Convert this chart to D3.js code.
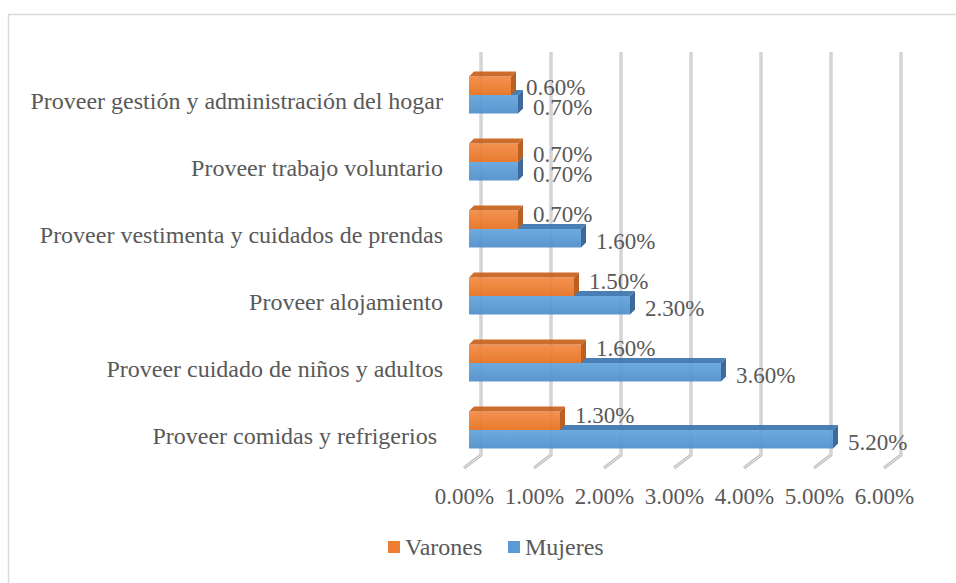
<!DOCTYPE html>
<html>
<head>
<meta charset="utf-8">
<script src="https://cdn.jsdelivr.net/npm/d3@7"></script>
<style>
  body { margin: 0; background: #fff; }
  svg text { font-family: "Liberation Serif", "DejaVu Serif", "Times New Roman", serif; fill: #595959; }
</style>
</head>
<body>
<svg id="chart" width="956" height="583"></svg>
<script>
// categories from top to bottom
var categories = [
  "Proveer gestión y administración del hogar",
  "Proveer trabajo voluntario",
  "Proveer vestimenta y cuidados de prendas",
  "Proveer alojamiento",
  "Proveer cuidado de niños y adultos",
  "Proveer comidas y refrigerios "
];
var varones = [0.006, 0.007, 0.007, 0.015, 0.016, 0.013];
var mujeres = [0.007, 0.007, 0.016, 0.023, 0.036, 0.052];
var ticks = [0, 0.01, 0.02, 0.03, 0.04, 0.05, 0.06];
var seriesNames = ["Varones", "Mujeres"];

var FONT = "'Liberation Serif', 'DejaVu Serif', 'Times New Roman', serif";
var svg = d3.select("#chart").attr("font-family", FONT);
var fmt = d3.format(".2%");

// chart border
svg.append("path")
  .attr("d", "M8.5,590 V14.5 H960")
  .attr("fill", "none")
  .attr("stroke", "#d9d9d9")
  .attr("stroke-width", 1.5);

var x = d3.scaleLinear().domain([0, 0.06]).range([469, 889]);
var y = d3.scalePoint().domain(categories).range([95, 430]);

var barH = 18.5;
var dx = 5, dy = 5;     // bar depth
var wallDx = 12;        // gridline on back wall
var floorDx = -17, floorDy = 13;

// gridlines (back wall + floor slant)
var grid = svg.append("g");
ticks.forEach(function(v){
  var gx = x(v) + wallDx;
  var d = "M" + gx + ",52 V455 L" + (gx + floorDx) + "," + (455 + floorDy);
  grid.append("path").attr("d", d).attr("fill", "none")
    .attr("stroke", "#bdbdbd").attr("stroke-width", 3);
  grid.append("path").attr("d", d).attr("fill", "none")
    .attr("stroke", "#ececec").attr("stroke-width", 1);
});

var defs = svg.append("defs");
function grad(id, c1, c2){
  var g = defs.append("linearGradient").attr("id", id)
    .attr("x1", 0).attr("y1", 0).attr("x2", 0).attr("y2", 1);
  g.append("stop").attr("offset", "0%").attr("stop-color", c1);
  g.append("stop").attr("offset", "100%").attr("stop-color", c2);
}
grad("gOr", "#f28a44", "#e7711f");
grad("gBl", "#62a4dc", "#4f8fcb");

var styles = {
  Varones: { front: "url(#gOr)", top: "#c9621c", side: "#b45512" },
  Mujeres: { front: "url(#gBl)", top: "#3d76b0", side: "#2f5f93" }
};

function bar3d(g, v, yTop, st){
  var x0 = x(0), x1 = x(v);
  g.append("rect").attr("x", x0).attr("y", yTop)
    .attr("width", x1 - x0).attr("height", barH)
    .attr("fill", st.front);
  g.append("path")
    .attr("d", "M" + x0 + "," + yTop + " L" + (x0 + dx) + "," + (yTop - dy) +
      " L" + (x1 + dx) + "," + (yTop - dy) + " L" + x1 + "," + yTop + "Z")
    .attr("fill", st.top);
  g.append("path")
    .attr("d", "M" + x1 + "," + yTop + " L" + (x1 + dx) + "," + (yTop - dy) +
      " L" + (x1 + dx) + "," + (yTop + barH - dy) + " L" + x1 + "," + (yTop + barH) + "Z")
    .attr("fill", st.side);
}

var bars = svg.append("g").attr("opacity", 0.93);
categories.forEach(function(c, i){
  var b = y(c);
  bar3d(bars, mujeres[i], b, styles.Mujeres);
  bar3d(bars, varones[i], b - barH, styles.Varones);
});

// data labels
var labels = svg.append("g").attr("font-size", 23);
categories.forEach(function(c, i){
  var b = y(c);
  var close = Math.abs(varones[i] - mujeres[i]) < 0.002;
  labels.append("text")
    .attr("x", x(varones[i]) + 15)
    .attr("y", b + (close ? -8 : -15))
    .attr("dy", "0.35em")
    .text(fmt(varones[i]));
  labels.append("text")
    .attr("x", x(mujeres[i]) + 15)
    .attr("y", b + 12)
    .attr("dy", "0.35em")
    .text(fmt(mujeres[i]));
});

// category labels
svg.append("g").selectAll("text")
  .data(categories)
  .enter()
  .append("text")
    .attr("x", 443)
    .attr("y", function(d){ return y(d) + 6; })
    .attr("dy", "0.35em")
    .attr("text-anchor", "end")
    .attr("font-size", 24)
    .style("white-space", "pre")
    .text(function(d){ return d; });

// x axis labels (at front of the floor)
var xFront = x.copy().range([x.range()[0] + wallDx + floorDx, x.range()[1] + wallDx + floorDx]);
var xAxis = d3.axisBottom(xFront).tickValues(ticks).tickFormat(fmt).tickSize(0).tickPadding(0);
var ax = svg.append("g").attr("transform", "translate(0,488)").call(xAxis);
ax.attr("font-family", FONT).attr("font-size", 23);
ax.select(".domain").remove();
ax.selectAll("text").attr("fill", "#595959");

// legend
var legendColors = ["#ED7D31", "#5B9BD5"];
var legendX = [388, 508];
var leg = svg.append("g");
seriesNames.forEach(function(n, i){
  leg.append("rect").attr("x", legendX[i]).attr("y", 541)
    .attr("width", 12).attr("height", 12).attr("fill", legendColors[i]);
  leg.append("text").attr("x", legendX[i] + 17).attr("y", 547)
    .attr("dy", "0.35em").attr("font-size", 24).text(n);
});
</script>
</body>
</html>
